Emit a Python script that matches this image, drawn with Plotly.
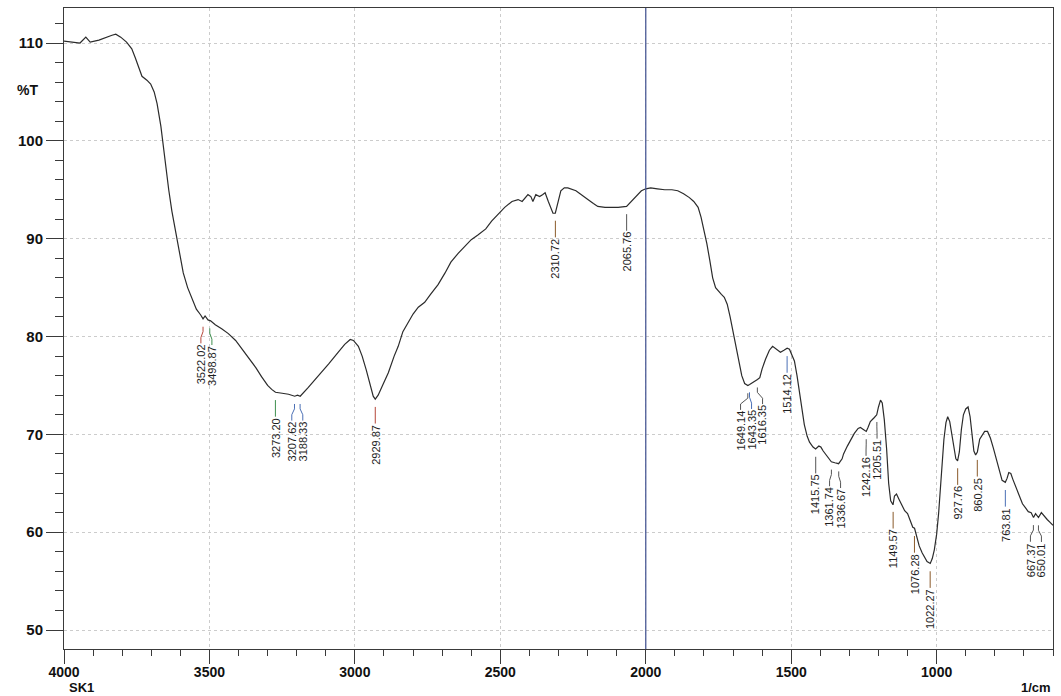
import numpy as np
import plotly.graph_objects as go

# ---- spectrum (wavenumber 1/cm, %T) ----
wavenumber = [
    4000, 3970, 3945, 3925, 3910, 3880, 3856, 3835, 3822, 3805, 3785, 3767, 3755, 3743,
    3732, 3715, 3702, 3690, 3680, 3667, 3655, 3640, 3629, 3615, 3605, 3590, 3575, 3560,
    3545, 3530, 3522, 3515, 3505, 3496, 3480, 3458, 3435, 3410, 3390, 3365, 3340, 3321,
    3300, 3286, 3273, 3250, 3228, 3207, 3197, 3188, 3175, 3160, 3140, 3115, 3090, 3057,
    3035, 3016, 3005, 2988, 2975, 2961, 2948, 2937, 2930, 2920, 2905, 2885, 2865, 2851,
    2835, 2817, 2800, 2782, 2760, 2740, 2714, 2690, 2670, 2645, 2620, 2600, 2576, 2550,
    2530, 2508, 2485, 2460, 2439, 2425, 2405, 2395, 2388, 2378, 2365, 2355, 2346, 2335,
    2325, 2319, 2311, 2300, 2292, 2280, 2268, 2240, 2220, 2199, 2180, 2165, 2140, 2120,
    2095, 2066, 2060, 2045, 2030, 2015, 2000, 1983, 1960, 1935, 1910, 1890, 1870, 1850,
    1835, 1820, 1810, 1800, 1790, 1780, 1770, 1760, 1750, 1740, 1730, 1720, 1710, 1700,
    1690, 1680, 1670, 1660, 1649, 1643, 1630, 1616, 1608, 1600, 1588, 1575, 1564, 1555,
    1545, 1537, 1525, 1514, 1506, 1495, 1489, 1480, 1468, 1455, 1445, 1437, 1425, 1416,
    1405, 1398, 1390, 1376, 1362, 1350, 1337, 1325, 1320, 1307, 1295, 1283, 1270, 1262,
    1252, 1242, 1236, 1228, 1215, 1206, 1200, 1193, 1187, 1180, 1172, 1165, 1158, 1150,
    1145, 1138, 1130, 1120, 1110, 1100, 1090, 1082, 1076, 1070, 1060, 1050, 1040, 1033,
    1022, 1015, 1008, 1000, 993, 988, 982, 975, 968, 962, 955, 948, 940, 934,
    928, 922, 915, 908, 900, 892, 885, 878, 872, 866, 860, 852, 843, 835,
    825, 815, 805, 795, 785, 775, 764, 758, 752, 745, 738, 730, 722, 714,
    705, 695, 685, 675, 667, 660, 650, 640, 630, 620, 610, 600,
]
transmittance = [
    110.2, 110.1, 110.0, 110.6, 110.1, 110.3, 110.6, 110.8, 110.9, 110.6, 110.1, 109.4, 108.5, 107.4,
    106.6, 106.2, 105.8, 105.0, 103.8, 101.5, 98.5, 95.0, 92.8, 90.5, 88.8, 86.5, 85.0, 83.8,
    82.8, 82.2, 81.8, 82.1, 81.7, 81.6, 81.2, 80.8, 80.3, 79.6, 78.8, 77.8, 76.8, 75.9,
    75.0, 74.6, 74.3, 74.2, 74.1, 73.9, 74.0, 73.9, 74.3, 74.8, 75.5, 76.3, 77.2, 78.4,
    79.2, 79.7, 79.6, 79.0, 78.0, 76.6, 75.0, 73.9, 73.6, 74.0, 75.0, 76.3, 78.0, 79.0,
    80.5, 81.5, 82.3, 83.0, 83.5, 84.3, 85.3, 86.5, 87.6, 88.5, 89.3, 89.9, 90.4, 91.0,
    91.8, 92.5, 93.2, 93.8, 94.0, 93.8, 94.5, 94.3, 93.8, 94.5, 94.3, 94.5, 94.7, 93.8,
    93.0, 92.6, 92.6, 94.0, 94.9, 95.2, 95.2, 94.9, 94.5, 94.0, 93.6, 93.3, 93.2, 93.2,
    93.2, 93.3, 93.5, 93.9, 94.4, 94.9, 95.1, 95.2, 95.1, 95.0, 95.0, 94.9, 94.6, 94.2,
    93.8, 93.2, 92.2, 91.0, 89.5, 87.8, 86.0, 85.0, 84.6, 84.3, 84.0, 83.3, 82.0, 80.5,
    78.8, 77.2, 76.0, 75.2, 75.0, 75.1, 75.3, 75.6, 75.8, 76.7, 77.7, 78.6, 79.0, 78.8,
    78.5, 78.4, 78.6, 78.8, 78.7, 78.0, 77.5, 76.0, 73.5, 71.0, 69.8, 69.2, 68.7, 68.5,
    68.8, 68.7, 68.3, 67.8, 67.2, 67.1, 67.0, 67.5, 68.0, 68.8, 69.5, 70.1, 70.6, 70.7,
    70.5, 70.3, 70.7, 71.3, 71.7, 72.0, 72.8, 73.5, 73.2, 71.5, 68.5, 65.0, 63.2, 62.8,
    63.7, 63.9, 63.4, 62.8, 62.2, 61.9, 61.2, 60.5, 60.4, 59.8, 58.6, 57.9, 57.3, 57.0,
    56.8, 57.3, 58.2, 59.8, 62.0, 64.0, 66.8, 69.5, 71.2, 71.8, 71.3, 70.0, 68.2, 67.5,
    67.3, 68.2, 70.5, 72.0, 72.6, 72.8, 71.8, 70.0, 68.3, 67.9, 68.2, 69.5, 70.0, 70.3,
    70.3, 69.6, 68.6, 67.5, 66.3, 65.3, 65.1, 65.5, 66.1, 66.0, 65.4, 64.8, 64.0, 63.4,
    62.9, 62.5, 62.1, 62.0, 61.5, 61.9, 61.5, 62.0, 61.6, 61.3, 61.0, 60.7,
]

# ---- peak labels ----
peak_wavenumbers = [3522.02, 3498.87, 3273.20, 3207.62, 3188.33, 2929.87, 2310.72, 2065.76,
                    1649.14, 1643.35, 1616.35, 1514.12, 1415.75, 1361.74, 1336.67, 1242.16,
                    1205.51, 1149.57, 1076.28, 1022.27, 927.76, 860.25, 763.81, 667.37, 650.01]
peak_labels = [f"{v:.2f}" for v in peak_wavenumbers]
peak_line_colors = ["#b5473a", "#3f8f4f", "#3f8f4f", "#4a6fb5", "#4a6fb5", "#b5473a", "#8a5a2a",
                    "#555555", "#555555", "#4a6fb5", "#555555", "#4a6fb5", "#555555", "#555555",
                    "#555555", "#555555", "#555555", "#8a5a2a", "#8a5a2a", "#8a5a2a", "#8a5a2a",
                    "#8a5a2a", "#4a6fb5", "#555555", "#555555"]

x_major_ticks = [4000, 3500, 3000, 2500, 2000, 1500, 1000]
y_major_ticks = [50, 60, 70, 80, 90, 100, 110]

X_RANGE = [4000, 600]
Y_RANGE = [48.06, 113.58]
MARGIN = dict(l=64, r=8, t=8, b=47)
W, H = 1061, 696
AX = "#3a3a3a"
FONT = "Liberation Sans, Arial, sans-serif"

fig = go.Figure()
fig.add_trace(go.Scatter(x=wavenumber, y=transmittance, mode="lines",
                         line=dict(color="#2b2b2b", width=1.2), hoverinfo="skip",
                         showlegend=False))

# ---- label placement: spread crowded labels apart (in pixels), hook the leader lines ----
px_per_unit = (W - MARGIN["l"] - MARGIN["r"]) / abs(X_RANGE[0] - X_RANGE[1])
sep_px = 11.0
pos = [(X_RANGE[0] - wn) * px_per_unit for wn in peak_wavenumbers]  # increasing
lab_pos = list(pos)
for _ in range(50):
    changed = False
    groups, cur = [], [0]
    for i in range(1, len(lab_pos)):
        if lab_pos[i] - lab_pos[cur[-1]] < sep_px - 1e-6:
            cur.append(i)
        else:
            groups.append(cur)
            cur = [i]
    groups.append(cur)
    for g in groups:
        if len(g) > 1:
            c = np.mean([pos[i] for i in g])
            start = c - sep_px * (len(g) - 1) / 2
            for k, i in enumerate(g):
                new = start + k * sep_px
                if abs(new - lab_pos[i]) > 1e-6:
                    changed = True
                lab_pos[i] = new
    if not changed:
        break

wn_asc = np.array(wavenumber[::-1], dtype=float)
tr_asc = np.array(transmittance[::-1], dtype=float)
gap, tick_len = 0.8, 1.7
for wn, lp, lab, col in zip(peak_wavenumbers, lab_pos, peak_labels, peak_line_colors):
    yc = float(np.interp(wn, wn_asc, tr_asc))
    top = yc - gap
    lx = X_RANGE[0] - lp / px_per_unit
    if abs(lx - wn) < 1e-6:
        path = f"M {wn},{top} L {wn},{top - tick_len}"
    else:
        path = (f"M {wn},{top} L {wn},{top - 0.5} L {lx},{top - 1.1} "
                f"L {lx},{top - tick_len}")
    fig.add_shape(type="path", xref="x", yref="y", path=path, line=dict(color=col, width=1))
    fig.add_annotation(x=lx, y=top - tick_len, xref="x", yref="y", text=lab, textangle=-90,
                       showarrow=False, xanchor="center", yanchor="top",
                       font=dict(family="Liberation Sans Narrow, Arial Narrow, Liberation Sans, sans-serif",
                                 size=11, color="#1e1e1e"),
                       borderpad=0)

# vertical marker line at 2000 1/cm
fig.add_shape(type="line", xref="x", yref="paper", x0=2000, x1=2000, y0=0, y1=1,
              line=dict(color="#4b5a96", width=1.3))

fig.add_annotation(text="%T", xref="paper", yref="y", x=-0.037, y=105.2, showarrow=False,
                   xanchor="center", yanchor="middle",
                   font=dict(family=FONT, size=14, color="#111", weight="bold"))
fig.add_annotation(text="SK1", xref="paper", yref="paper", x=0.018, y=-0.0600, showarrow=False,
                   xanchor="center", yanchor="middle",
                   font=dict(family=FONT, size=13, color="#111", weight="bold"))
fig.add_annotation(text="1/cm", xref="paper", yref="paper", x=1.0, y=-0.0600, showarrow=False,
                   xanchor="right", yanchor="middle",
                   font=dict(family=FONT, size=13, color="#111", weight="bold"))

fig.update_layout(
    width=W, height=H,
    margin=MARGIN,
    paper_bgcolor="white", plot_bgcolor="white",
    showlegend=False,
    xaxis=dict(range=X_RANGE, tickmode="array", tickvals=x_major_ticks,
               ticktext=[str(v) for v in x_major_ticks],
               ticks="outside", ticklen=14, tickcolor=AX, tickwidth=1,
               ticklabelstandoff=-4,
               showline=True, linecolor=AX, linewidth=1, mirror=True,
               showgrid=True, gridcolor="#cccccc", griddash="3px,3px", gridwidth=1,
               zeroline=False,
               minor=dict(dtick=100, tick0=0, ticks="outside", ticklen=6, tickcolor=AX,
                          showgrid=False),
               tickfont=dict(family=FONT, size=14, color="#111", weight="bold")),
    yaxis=dict(range=Y_RANGE, tickmode="array", tickvals=y_major_ticks,
               ticks="outside", ticklen=17, tickcolor=AX, tickwidth=1,
               showline=True, linecolor=AX, linewidth=1, mirror=True,
               showgrid=True, gridcolor="#cccccc", griddash="3px,3px", gridwidth=1,
               zeroline=False,
               minor=dict(dtick=2, tick0=0, ticks="outside", ticklen=8, tickcolor=AX,
                          showgrid=False),
               tickfont=dict(family=FONT, size=15, color="#111", weight="bold")),
)

fig.write_html("out.html")
